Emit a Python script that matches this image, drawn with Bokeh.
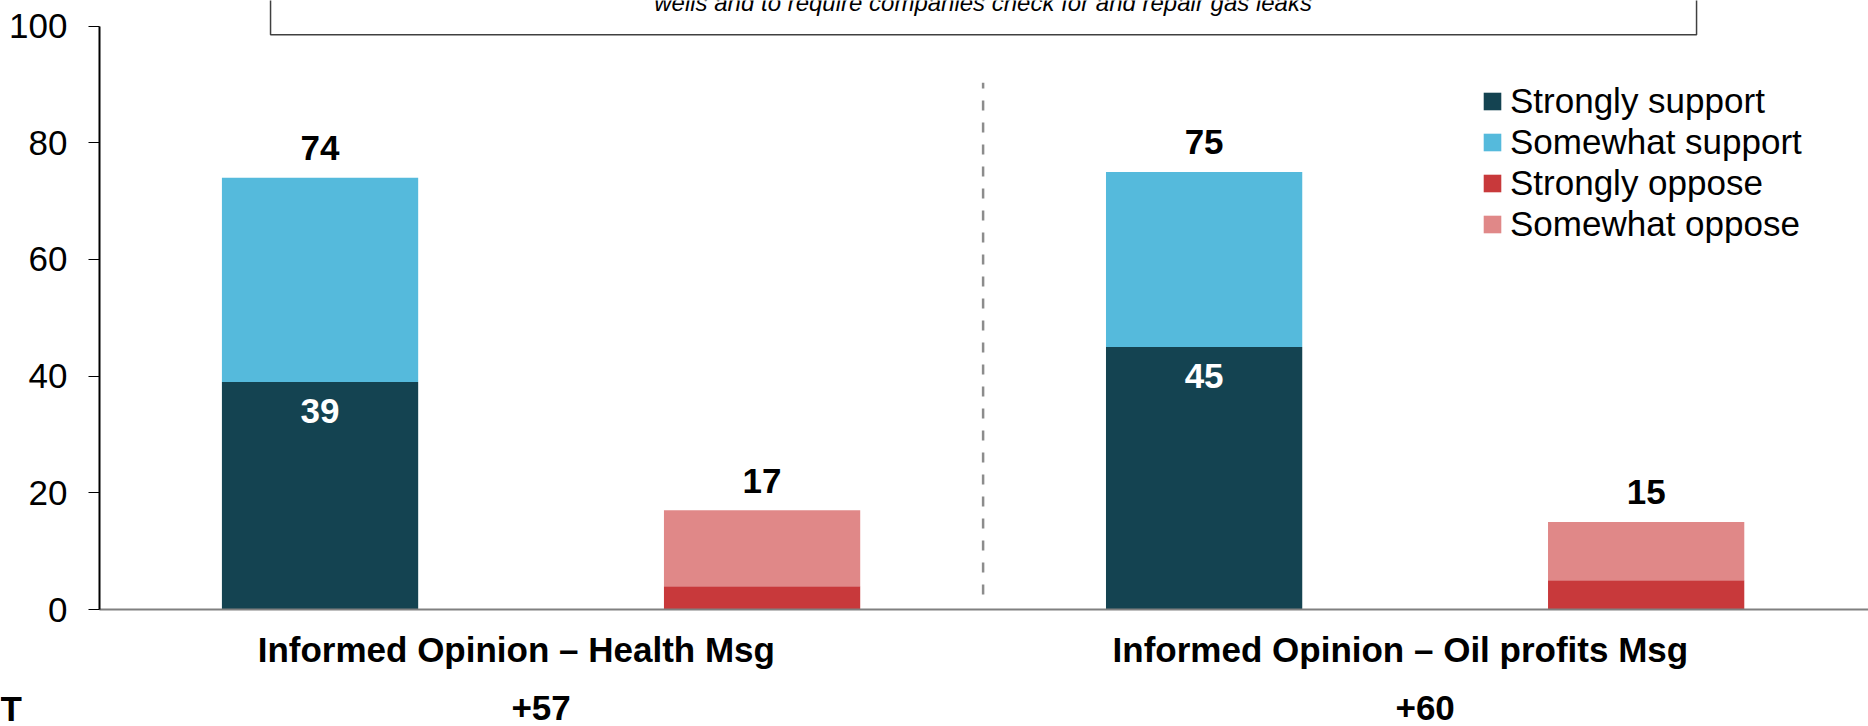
from bokeh.plotting import figure
from bokeh.models import (Range1d, LinearAxis, FixedTicker, ColumnDataSource,
                          Legend, LegendItem)
from bokeh.core.properties import value
from bokeh.embed import file_html
from bokeh.resources import INLINE

# ---------------- data ----------------
groups = ["Informed Opinion \u2013 Health Msg", "Informed Opinion \u2013 Oil profits Msg"]
strongly_support = [39, 45]
somewhat_support = [35, 30]
strongly_oppose = [4, 5]
somewhat_oppose = [13, 10]
net_labels = ["+57", "+60"]
series_names = ["Strongly support", "Somewhat support", "Strongly oppose", "Somewhat oppose"]
y_ticks = [0, 20, 40, 60, 80, 100]
row_label = "T"
note_text = "wells and to require companies check for and repair gas leaks"

# ---------------- style ----------------
colors = ["#144351", "#55BADC", "#C8393B", "#E08888"]
FONT = "Liberation Sans"
BAR_W = 0.444
X_LEFT = -0.7229      # canvas left edge (data units)
AXIS_X = -0.4989      # where the y axis sits
X_RIGHT = 3.503

support_x = [2 * i for i in range(len(groups))]
oppose_x = [2 * i + 1 for i in range(len(groups))]
support_total = [a + b for a, b in zip(strongly_support, somewhat_support)]
oppose_total = [a + b for a, b in zip(strongly_oppose, somewhat_oppose)]

p = figure(width=1868, height=726,
           x_range=Range1d(X_LEFT, X_RIGHT), y_range=Range1d(-20.05, 104.39),
           x_axis_location=None, y_axis_location=None,
           toolbar_location=None, tools="", output_backend="svg",
           min_border_left=0, min_border_right=0, min_border_top=0, min_border_bottom=0)
p.outline_line_color = None
p.xgrid.visible = False
p.ygrid.visible = False

sup = ColumnDataSource(dict(x=support_x, strong=strongly_support, total=support_total))
opp = ColumnDataSource(dict(x=oppose_x, strong=strongly_oppose, total=oppose_total))

r1 = p.vbar(x="x", bottom=0, top="strong", width=BAR_W, source=sup,
            fill_color=colors[0], line_color=None)
r2 = p.vbar(x="x", bottom="strong", top="total", width=BAR_W, source=sup,
            fill_color=colors[1], line_color=None)
r3 = p.vbar(x="x", bottom=0, top="strong", width=BAR_W, source=opp,
            fill_color=colors[2], line_color=None)
r4 = p.vbar(x="x", bottom="strong", top="total", width=BAR_W, source=opp,
            fill_color=colors[3], line_color=None)

# baseline (x axis line), gray
p.segment(x0=[AXIS_X], y0=[0], x1=[X_RIGHT], y1=[0], line_color="#808080", line_width=2)

# y axis, drawn at a fixed location inside the canvas
yaxis = LinearAxis(bounds=(0, 100), ticker=FixedTicker(ticks=y_ticks),
                   fixed_location=AXIS_X,
                   axis_line_color="black", axis_line_width=2,
                   major_tick_line_color="black", major_tick_line_width=1,
                   major_tick_in=0, major_tick_out=11,
                   minor_tick_line_color=None, major_label_standoff=21,
                   major_label_text_font=FONT, major_label_text_font_size="35px",
                   major_label_text_color="black")
p.add_layout(yaxis, "left")

# dashed divider between the two message groups
div_x = (oppose_x[0] + support_x[1]) / 2
p.segment(x0=[div_x], y0=[2.57], x1=[div_x], y1=[90.3],
          line_color="#8C8C8C", line_width=2.5, line_dash="10 12")

# value labels
bold = dict(text_font=value(FONT), text_font_style="bold", text_font_size="35px",
            text_align="center", text_baseline="middle")
p.text(x=support_x, y=[t + 5.1 for t in support_total],
       text=[str(t) for t in support_total], text_color="black", **bold)
p.text(x=oppose_x, y=[t + 5.1 for t in oppose_total],
       text=[str(t) for t in oppose_total], text_color="black", **bold)
p.text(x=support_x, y=[s - 5.0 for s in strongly_support],
       text=[str(s) for s in strongly_support], text_color="white", **bold)

# category labels and net values
centers = [(a + b) / 2 for a, b in zip(support_x, oppose_x)]
p.text(x=[c - 0.056 for c in centers], y=[-6.86] * len(groups), text=groups,
       text_color="black", **bold)
p.text(x=centers, y=[-16.9] * len(groups), text=net_labels,
       text_color="black", **bold)
bold_left = dict(bold, text_align="left")
p.text(x=[X_LEFT], y=[-16.9], text=[row_label], text_color="black", **bold_left)

# note box at top (cut off)
p.quad(left=[-0.112], right=[3.114], bottom=[98.5], top=[110],
       fill_color=None, line_color="#404040", line_width=1.5)
p.text(x=[div_x], y=[104.06], text=[note_text], text_font=value(FONT),
       text_font_style="italic", text_font_size="24px", text_align="center",
       text_baseline="middle", text_color="black")

# legend
legend = Legend(items=[LegendItem(label=n, renderers=[r])
                       for n, r in zip(series_names, [r1, r2, r3, r4])],
                location=(1481, 482), orientation="vertical",
                glyph_width=22, glyph_height=22, label_standoff=7,
                spacing=1, padding=0, margin=0,
                border_line_color=None, background_fill_alpha=0,
                label_text_font=FONT, label_text_font_size="35px",
                label_text_color="black", label_height=18)
p.add_layout(legend)

open("out.html", "w").write(file_html(p, INLINE))
